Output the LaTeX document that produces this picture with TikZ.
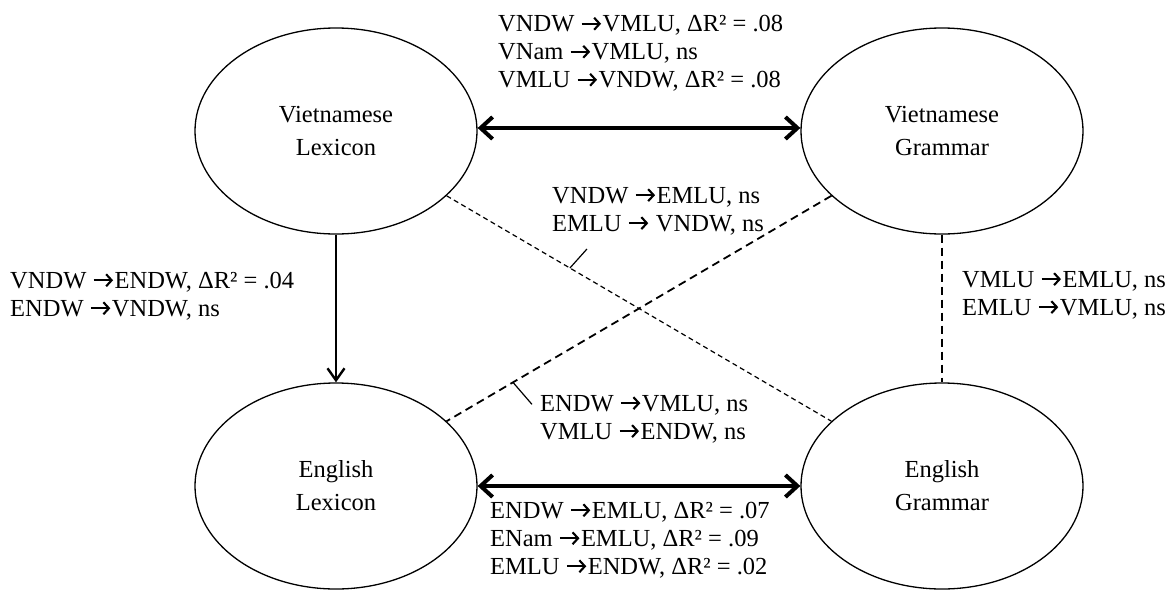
\documentclass[tikz,border=0pt]{standalone}
\usepackage{fontspec}
\setmainfont{Liberation Serif}
\usetikzlibrary{arrows.meta,calc,shapes.geometric}
\newcommand\ra{\tikz[x=1pt,y=1pt,baseline=0pt]{\path (0,0) rectangle (21,1);\draw[line width=2.1pt,-{Straight Barb[length=5.5pt,width=12pt]}] (0.5,8) -- (20,8);}\hspace{0.5pt}}
\begin{document}
\begin{tikzpicture}[x=1pt,y=-1pt,
  latent/.style={draw, ellipse, line width=1.3pt, minimum width=282pt, minimum height=206pt,
    inner sep=0pt, align=center, font=\fontsize{24.5}{33}\selectfont},
  lbl/.style={anchor=west, align=left, inner sep=0pt, font=\fontsize{24.5}{28}\selectfont},
  bigarrow/.style={line width=4pt, {Straight Barb[length=12pt,width=22pt]}-{Straight Barb[length=12pt,width=22pt]}},
  midarrow/.style={line width=2.4pt, -{Straight Barb[length=12pt,width=17pt]}},
  fdash/.style={line width=1.2pt, dash pattern=on 5pt off 3.5pt},
  cdash/.style={line width=1.8pt, dash pattern=on 8pt off 5pt},
  leader/.style={line width=1.2pt}
]
\useasboundingbox (0,0) rectangle (1171,590);

\node[latent] (VL) at (336,131) {Vietnamese\\Lexicon};
\node[latent] (VG) at (942,131) {Vietnamese\\Grammar};
\node[latent] (EL) at (336,486) {English\\Lexicon};
\node[latent] (EG) at (942,486) {English\\Grammar};

\draw[bigarrow] ([yshift=3pt]VL.east) -- ([yshift=3pt]VG.west);
\draw[bigarrow] (EL) -- (EG);
\draw[midarrow] (VL) -- (EL);
\draw[fdash] (VL) -- (EG);
\draw[cdash] (VG) -- (EL);
\draw[cdash] (VG) -- (EG);

\coordinate (t1) at ($(VL)!0.386!(EG)$);
\coordinate (t1e) at ($(t1)+(17,-19)$);
\draw[leader] (t1) -- (t1e);
\coordinate (t2) at ($(VG)!0.708!(EL)$);
\coordinate (t2e) at ($(t2)+(19,22)$);
\draw[leader] (t2) -- (t2e);

\node[lbl] (ltop) at (498,53.5) {VNDW \ra VMLU, ΔR² = .08\\VNam \ra VMLU, ns\\VMLU \ra VNDW, ΔR² = .08};
\node[lbl] (lmu) at (552,211) {VNDW \ra EMLU, ns\\EMLU \ra\ VNDW, ns};
\node[lbl] (lml) at (540,419) {ENDW \ra VMLU, ns\\VMLU \ra ENDW, ns};
\node[lbl] (lbot) at (490,540) {ENDW \ra EMLU, ΔR² = .07\\ENam \ra EMLU, ΔR² = .09\\EMLU \ra ENDW, ΔR² = .02};
\node[lbl] (lleft) at (10,296) {VNDW \ra ENDW, ΔR² = .04\\ENDW \ra VNDW, ns};
\node[lbl] (lright) at (962,295) {VMLU \ra EMLU, ns\\EMLU \ra VMLU, ns};
\end{tikzpicture}
\end{document}
